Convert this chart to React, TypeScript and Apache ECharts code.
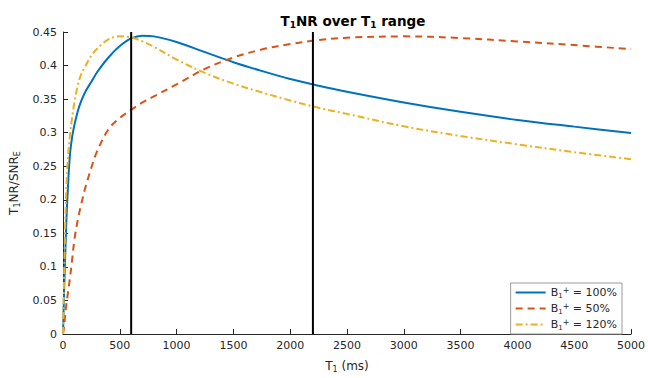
import React, { useEffect, useRef } from "react";
import * as echarts from "echarts";

const T = [0, 10, 20, 30, 40, 60, 80, 100, 130, 160, 200, 250, 300, 400, 500, 600, 700, 800, 1000, 1250, 1500, 1750, 2000, 2250, 2500, 3000, 3500, 4000, 4500, 5000];
const b100 = [0, 0.065, 0.12, 0.17, 0.207, 0.265, 0.293, 0.311, 0.332, 0.347, 0.362, 0.376, 0.39, 0.412, 0.429, 0.4405, 0.4445, 0.4435, 0.435, 0.42, 0.405, 0.392, 0.38, 0.37, 0.361, 0.345, 0.331, 0.319, 0.309, 0.2995];
const b50 = [0, 0.012, 0.03, 0.045, 0.057, 0.082, 0.11, 0.14, 0.17, 0.193, 0.22, 0.248, 0.272, 0.305, 0.322, 0.334, 0.345, 0.354, 0.372, 0.395, 0.412, 0.424, 0.432, 0.438, 0.4415, 0.4435, 0.441, 0.436, 0.4305, 0.4245];
const b120 = [0, 0.09, 0.165, 0.22, 0.255, 0.295, 0.322, 0.345, 0.37, 0.387, 0.4, 0.415, 0.425, 0.439, 0.4435, 0.442, 0.436, 0.428, 0.409, 0.389, 0.373, 0.36, 0.348, 0.337, 0.328, 0.3095, 0.295, 0.2825, 0.271, 0.2605];
const seriesNames = ["100%", "50%", "120%"];
const vLines = [600, 2200];
const yTicks = { min: 0, max: 0.45, interval: 0.05 };
const xTicks = { min: 0, max: 5000, interval: 500 };

const FONT = "DejaVu Sans";
const AX = "#262626";

export default function App() {
  const ref = useRef<HTMLDivElement>(null);
  useEffect(() => {
    if (!ref.current) return;
    const chart = echarts.init(ref.current, null, { renderer: "svg" });
    const mk = (vals: number[]) => T.map((t, i) => [t, vals[i]]);
    const colors = ["#0072BD", "#D95319", "#EDB120"];
    const styles: any[] = ["solid", [7, 5], [7, 3, 2, 3]];
    const data = [b100, b50, b120];
    const series: any[] = data.map((d, i) => ({
      name: seriesNames[i],
      type: "line",
      data: mk(d),
      smooth: 0.35,
      showSymbol: false,
      symbol: "none",
      lineStyle: { color: colors[i], width: 2, type: styles[i] },
      itemStyle: { color: colors[i] },
      z: 3 + i,
    }));
    vLines.forEach((v) => {
      series.push({
        name: "v" + v,
        type: "line",
        data: [[v, yTicks.min], [v, yTicks.max]],
        showSymbol: false,
        symbol: "none",
        silent: true,
        lineStyle: { color: "#000", width: 2 },
        z: 10,
      });
    });
    chart.setOption({
      animation: false,
      backgroundColor: "#fff",
      textStyle: { fontFamily: FONT },
      title: {
        text: "{b|T}{s|1}{b|NR over T}{s|1}{b| range}",
        left: 348,
        textAlign: "center",
        top: 8,
        textStyle: {
          rich: {
            b: { fontFamily: FONT, fontWeight: "bold", fontSize: 13.5, color: "#000", lineHeight: 16 },
            s: { fontFamily: FONT, fontWeight: "bold", fontSize: 9, color: "#000", lineHeight: 9, verticalAlign: "bottom" },
          },
        },
      },
      grid: { left: 63, right: 16, top: 32, bottom: 38, containLabel: false },
      legend: {
        data: seriesNames,
        orient: "vertical",
        right: 26,
        bottom: 44,
        itemWidth: 30,
        itemHeight: 10,
        itemGap: 3,
        padding: [3, 5, 3, 4],
        borderColor: "#9a9a9a",
        borderWidth: 1,
        backgroundColor: "#fff",
        itemStyle: { opacity: 0 },
        formatter: (n: string) => "{n|B}{s|1}{p|+}{n| = " + n + "}",
        textStyle: {
          color: AX,
          rich: {
            n: { fontFamily: FONT, fontSize: 11, color: AX, lineHeight: 13 },
            s: { fontFamily: FONT, fontSize: 7, color: AX, lineHeight: 7, verticalAlign: "bottom" },
            p: { fontFamily: FONT, fontSize: 8, color: AX, lineHeight: 8, verticalAlign: "top" },
          },
        },
      },
      xAxis: {
        type: "value",
        min: xTicks.min,
        max: xTicks.max,
        interval: xTicks.interval,
        name: "{a|T}{s|1}{a| (ms)}",
        nameLocation: "middle",
        nameGap: 24,
        nameTextStyle: {
          rich: {
            a: { fontFamily: FONT, fontSize: 12, color: AX, lineHeight: 15 },
            s: { fontFamily: FONT, fontSize: 8, color: AX, lineHeight: 8, verticalAlign: "bottom" },
          },
        },
        axisLine: { show: true, lineStyle: { color: AX, width: 1 } },
        axisTick: { show: true, inside: true, length: 5, lineStyle: { color: AX } },
        axisLabel: { color: AX, fontSize: 11, fontFamily: FONT, margin: 6, formatter: (v: number) => String(v) },
        splitLine: { show: false },
      },
      yAxis: {
        type: "value",
        min: yTicks.min,
        max: yTicks.max,
        interval: yTicks.interval,
        name: "{a|T}{s|1}{a|NR/SNR}{s|E}",
        nameLocation: "middle",
        nameRotate: 90,
        nameGap: 36,
        nameTextStyle: {
          rich: {
            a: { fontFamily: FONT, fontSize: 12, color: AX, lineHeight: 15 },
            s: { fontFamily: FONT, fontSize: 8, color: AX, lineHeight: 8, verticalAlign: "bottom" },
          },
        },
        axisLine: { show: true, lineStyle: { color: AX, width: 1 } },
        axisTick: { show: true, inside: true, length: 5, lineStyle: { color: AX } },
        axisLabel: { color: AX, fontSize: 11, fontFamily: FONT, margin: 6, formatter: (v: number) => String(Math.round(v * 100) / 100) },
        splitLine: { show: false },
      },
      series,
    });
    return () => chart.dispose();
  }, []);
  return <div ref={ref} style={{ width: 648, height: 378, position: "absolute", left: 0, top: 0 }} />;
}
